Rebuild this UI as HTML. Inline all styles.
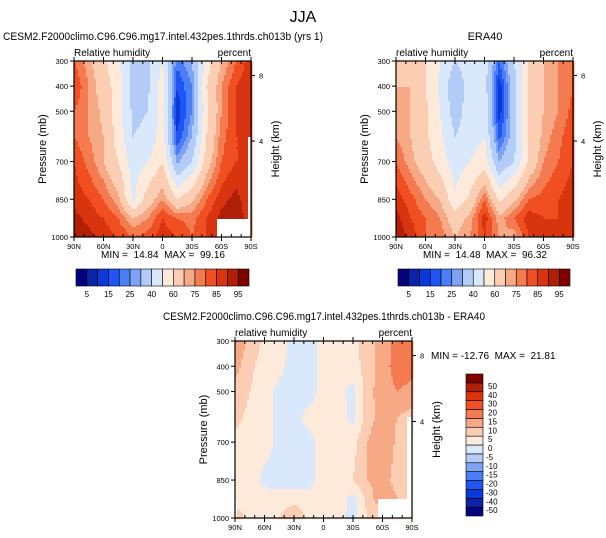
<!DOCTYPE html>
<html><head><meta charset="utf-8">
<style>
html,body{margin:0;padding:0;background:#fff;}
svg{display:block;font-family:"Liberation Sans",sans-serif;}
text{white-space:pre;}
</style></head>
<body>
<svg id="chart" width="606" height="538" viewBox="0 0 606 538">
<text x="303" y="22" font-size="16" text-anchor="middle">JJA</text>
<g id="g1"></g>
<g id="g2"></g>
<g id="g3"></g>
</svg>
<script>
const lats=[90,75,60,45,30,15,0,-15,-30,-45,-60,-75,-90];
const levs=[300,400,500,600,700,850,925,1000];
const modelRH=[
[80,72,62,52,38,38,50,22,30,55,70,80,88],
[85,75,65,55,35,38,55,15,25,60,75,85,90],
[80,75,68,55,38,40,55,12,25,58,75,85,88],
[80,75,70,55,40,42,55,15,30,60,78,85,85],
[85,78,70,60,45,50,60,28,40,65,80,85,85],
[88,85,80,72,48,65,75,60,68,80,88,92,85],
[92,88,85,80,70,75,85,80,78,85,92,95,85],
[96,92,88,85,80,82,88,85,80,85,90,95,85]];
const eraRH=[
[65,65,60,50,40,45,45,20,40,60,70,75,80],
[70,70,60,48,32,45,45,12,35,60,70,75,80],
[75,70,62,50,35,45,48,12,35,60,70,75,82],
[75,70,62,52,40,45,50,18,35,60,72,78,85],
[80,72,65,55,45,50,55,30,40,62,75,80,85],
[88,82,75,70,52,62,80,58,68,80,82,85,88],
[92,85,80,75,65,72,88,72,80,88,85,85,88],
[95,88,80,78,70,75,85,75,72,85,85,85,90]];
const diffRH=[
[16,8,4,3,-2,-3,2,3,4,7,13,16,18],
[12,6,3,2,-3,-5,3,3,3,7,13,17,16],
[8,5,3,-2,-3,-3,3,2,-2,8,13,15,14],
[6,4,3,-2,-2,2,2,3,-2,8,12,10,8],
[4,4,3,-2,-2,-2,3,4,3,10,14,9,4],
[3,4,-2,-2,-3,-2,3,3,5,10,12,8,3],
[3,3,3,2,3,2,2,3,-2,7,14,10,3],
[8,3,3,5,10,3,3,2,-2,5,6,6,3]];
const rhLevels=[5,10,15,20,25,30,40,50,60,70,75,80,85,90,95];
const rhLabels=["5","15","25","40","60","75","85","95"];
const diffLevels=[-50,-40,-30,-20,-15,-10,-5,0,5,10,15,20,30,40,50];
const pTicks=[300,400,500,700,850,1000];
const latTicks=[90,60,30,0,-30,-60,-90];
const latLabels=["90N","60N","30N","0","30S","60S","90S"];
const colors=["#03037f","#0a23a8","#0b39d8","#1f55f5","#4a7ef5","#7ea3f5","#b3cbf7","#d9e8fa","#fdeadb","#fbcdb3","#f7a985","#f47a4f","#f04f22","#d93410","#b01f08","#800000"];
const NS="http://www.w3.org/2000/svg";
function mk(parent,tag,attrs,txt){const e=document.createElementNS(NS,tag);for(const k in attrs)e.setAttribute(k,attrs[k]);if(txt!==undefined)e.textContent=txt;parent.appendChild(e);return e;}
function colorFor(v,lv){let i=0;while(i<lv.length&&v>=lv[i])i++;return colors[i];}
function sample(f,lat,p){
  let i=0;while(i<lats.length-2&&lat<lats[i+1])i++;
  let j=0;while(j<levs.length-2&&p>levs[j+1])j++;
  const tx=(lats[i]-lat)/(lats[i]-lats[i+1]);const ty=(p-levs[j])/(levs[j+1]-levs[j]);
  const a=f[j][i],b=f[j][i+1],c=f[j+1][i],d=f[j+1][i+1];
  return (a*(1-tx)+b*tx)*(1-ty)+(c*(1-tx)+d*tx)*ty;
}
function panel(g,o){
  const X=v=>o.x0+(90-v)/180*(o.x1-o.x0);
  const Y=p=>o.y0+(p-300)/700*(o.y1-o.y0);
  const step=2;
  for(let px=o.x0;px<o.x1;px+=step){for(let py=o.y0;py<o.y1;py+=step){
    const lat=90-(px+step/2-o.x0)/(o.x1-o.x0)*180;const p=300+(py+step/2-o.y0)/(o.y1-o.y0)*700;
    const r=mk(g,'rect',{x:px,y:py,width:step+0.3,height:step+0.3,fill:colorFor(sample(o.f,lat,p),o.lv)});
    
    
  }}
  (o.masks||[]).forEach(m=>{const r=mk(g,'rect',{x:m[0],y:m[1],width:m[2],height:m[3],fill:'#fff'});});
  const fr=mk(g,'rect',{x:o.x0,y:o.y0,width:o.x1-o.x0,height:o.y1-o.y0,fill:'none',stroke:'#000','stroke-width':1.2});
  
  for(let l=90;l>=-90;l-=10){const x=X(l);mk(g,'line',{x1:x,x2:x,y1:o.y1,y2:o.y1-3,stroke:'#000'});mk(g,'line',{x1:x,x2:x,y1:o.y0,y2:o.y0+3,stroke:'#000'});}
  latTicks.forEach((l,k)=>{const x=X(l);mk(g,'line',{x1:x,x2:x,y1:o.y1,y2:o.y1+4,stroke:'#000'});mk(g,'line',{x1:x,x2:x,y1:o.y0,y2:o.y0-4,stroke:'#000'});
    const t=mk(g,'text',{x:x,y:o.y1+12,'font-size':7.5,'text-anchor':'middle'},latLabels[k]);});
  pTicks.forEach(p=>{const y=Y(p);mk(g,'line',{x1:o.x0,x2:o.x0-4,y1:y,y2:y,stroke:'#000'});
    const t=mk(g,'text',{x:o.x0-6,y:y+3,'font-size':7.5,'text-anchor':'end'},p);});
  [[8,75.5],[4,141]].forEach(h=>{const y=o.y0+(h[1]-61)/176*(o.y1-o.y0);mk(g,'line',{x1:o.x1,x2:o.x1+4,y1:y,y2:y,stroke:'#000'});mk(g,'text',{x:o.x1+8,y:y+3,'font-size':7.5},h[0]);});
  const t1=mk(g,'text',{x:o.x0,y:o.y0-5,'font-size':10},o.left);
  const t2=mk(g,'text',{x:o.x1,y:o.y0-5,'font-size':10,'text-anchor':'end'},'percent');
  const cy=(o.y0+o.y1)/2;
  const ya=mk(g,'text',{x:o.x0-28,y:cy,'font-size':11,'text-anchor':'middle',transform:`rotate(-90 ${o.x0-28} ${cy})`},'Pressure (mb)');
  const yb=mk(g,'text',{x:o.x1+28,y:cy,'font-size':11,'text-anchor':'middle',transform:`rotate(-90 ${o.x1+28} ${cy})`},'Height (km)');
  const ta={x:o.tx,y:o.ty,'font-size':11,'text-anchor':'middle'};
  if(o.tlen){ta.textLength=o.tlen;ta.lengthAdjust='spacingAndGlyphs';}
  const tt=mk(g,'text',ta,o.title);
  const mm=mk(g,'text',{x:o.mx,y:o.my,'font-size':10,'text-anchor':o.manchor},o.minmax);
}
function hbar(g,x0,x1,y0,y1){
  const w=(x1-x0)/colors.length;
  colors.forEach((c,i)=>{const r=mk(g,'rect',{x:x0+i*w,y:y0,width:w,height:y1-y0,fill:c,stroke:'#000','stroke-width':0.6});});
  rhLabels.forEach((l,k)=>{const t=mk(g,'text',{x:x0+(2*k+1)*w,y:y1+11,'font-size':8,'text-anchor':'middle'},l);});
}
function vbar(g,x0,x1,y0,y1){
  const h=(y1-y0)/colors.length;
  colors.forEach((c,i)=>{const r=mk(g,'rect',{x:x0,y:y1-(i+1)*h,width:x1-x0,height:h,fill:c,stroke:'#000','stroke-width':0.6});});
  diffLevels.forEach((l,k)=>{const t=mk(g,'text',{x:x1+(l<0?3:5),y:y1-(k+1)*h+6,'font-size':8},l);});
}
const g1=document.getElementById('g1'),g2=document.getElementById('g2'),g3=document.getElementById('g3');
panel(g1,{f:modelRH,lv:rhLevels,x0:74,x1:251,y0:61,y1:237,left:'Relative humidity',title:'CESM2.F2000climo.C96.C96.mg17.intel.432pes.1thrds.ch013b (yrs 1)',tx:163,ty:40,tlen:320,minmax:'MIN =  14.84  MAX =  99.16',mx:163,my:258,manchor:'middle',masks:[[217,219,34,18],[248,137,3,100]]});
hbar(g1,76,249,269,286);
panel(g2,{f:eraRH,lv:rhLevels,x0:396,x1:573,y0:61,y1:237,left:'relative humidity',title:'ERA40',tx:485,ty:40,minmax:'MIN =  14.48  MAX =  96.32',mx:485,my:258,manchor:'middle'});
hbar(g2,398,570,269,286);
panel(g3,{f:diffRH,lv:diffLevels,x0:235,x1:412,y0:341,y1:518,left:'relative humidity',title:'CESM2.F2000climo.C96.C96.mg17.intel.432pes.1thrds.ch013b - ERA40',tx:324,ty:320,tlen:322,minmax:'MIN = -12.76  MAX =  21.81',mx:431,my:359,manchor:'start',masks:[[378,499,34,19],[407,417,5,101],[235,500,2,18]]});
vbar(g3,466,483,374,516);
</script>
</body></html>
